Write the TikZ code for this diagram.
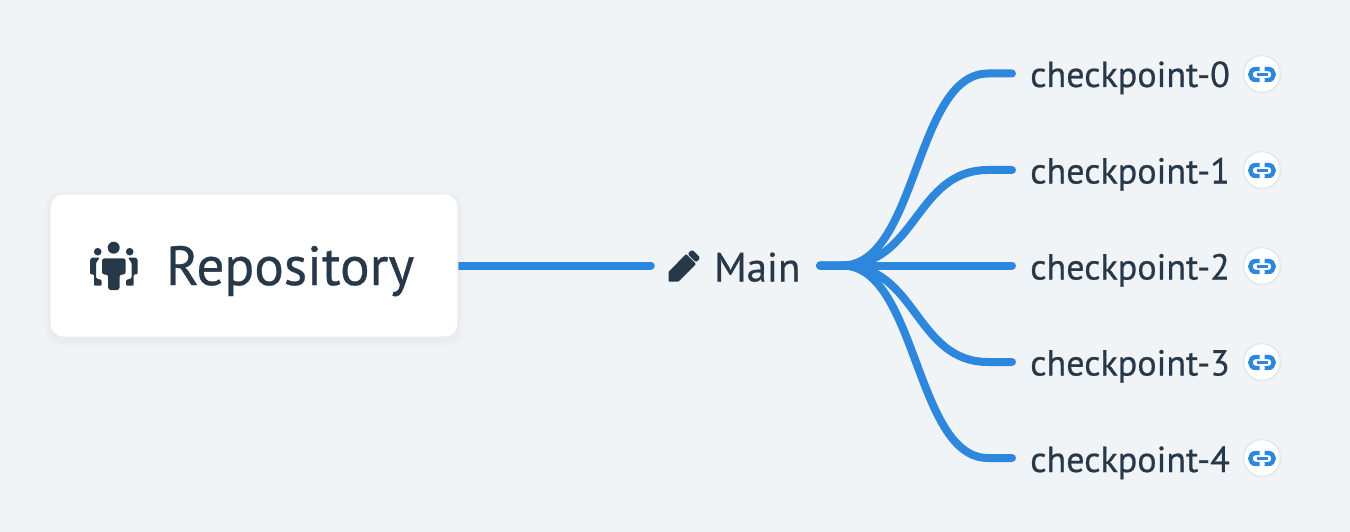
\documentclass[tikz,border=0pt]{standalone}
\usepackage{fontspec}
\setmainfont[FakeBold=0.55]{PT Sans}
\usetikzlibrary{backgrounds}
\definecolor{bg}{HTML}{F0F4F7}
\definecolor{ink}{HTML}{273849}
\definecolor{wire}{HTML}{2D87DC}
\definecolor{ring}{HTML}{E3E8EE}
\tikzset{
  x=1pt,y=-1pt,
  wirepath/.style={draw=wire,line width=8pt,line cap=round},
  hub/.style={inner sep=0pt,minimum width=169pt,minimum height=40pt},
  leaf/.style={inner sep=0pt,anchor=west,minimum width=214pt,minimum height=40pt},
  lbl/.style={inner sep=0pt,anchor=base west,text=ink,font=\fontsize{41}{41}\selectfont},
  ckpt/.style={lbl,font=\fontsize{36.1}{36.1}\selectfont},
  repobox/.style={fill=white,draw=ring,line width=.6pt,rounded corners=13pt,minimum width=408pt,minimum height=143pt,inner sep=0pt},
  badge/.style={circle,fill=white,draw=ring,line width=1.5pt,minimum size=37pt,inner sep=0pt},
  linkarc/.style={draw=wire,line width=4.4pt,line cap=butt,fill=none},
  linkicon/.pic={
    \draw[linkarc] (-2.5,-5.5) -- (-6,-5.5) .. controls (-9.5,-5.5) and (-11.7,-3) .. (-11.7,0) .. controls (-11.7,3) and (-9.5,5.5) .. (-6,5.5) -- (-2.5,5.5);
    \draw[linkarc] (2.5,-5.5) -- (6,-5.5) .. controls (9.5,-5.5) and (11.7,-3) .. (11.7,0) .. controls (11.7,3) and (9.5,5.5) .. (6,5.5) -- (2.5,5.5);
    \draw[draw=wire,line width=3pt] (-5.5,0) -- (5.5,0);
  }
}
\begin{document}
\begin{tikzpicture}
\useasboundingbox (0,0) rectangle (1350,532);
\node[repobox] (repo) at (254,265.5) {};
\node[hub] (main) at (735.5,265.5) {};
\node[leaf] (c0) at (1012,73.5) {};
\node[leaf] (c1) at (1012,170) {};
\node[leaf] (c2) at (1012,265.5) {};
\node[leaf] (c3) at (1012,362) {};
\node[leaf] (c4) at (1012,458) {};
\begin{pgfonlayer}{background}
\fill[bg] (0,0) rectangle (1350,532);
\foreach \g/\o in {6/.012,4/.015,2/.02}
  \fill[black!50,opacity=\o,rounded corners=14pt] (50-\g,194-\g+3) rectangle (458+\g,337+\g+3);
\draw[wirepath] (repo.east) -- (main.west);
\foreach \n in {c0,c1,c2,c3,c4}
  \draw[wirepath] (main.east) -- ++(22,0) .. controls +(75,0) and ([xshift=-97pt]\n.west) .. ([xshift=-24pt]\n.west) -- (\n.west);
\end{pgfonlayer}
\node[lbl,font=\fontsize{55.2}{55.2}\selectfont] (repotext) at (166,285) {Repository};
\node[lbl] (maintext) at (714,281.5) {Main};
\node[ckpt] (t0) at (1030,87) {checkpoint-0};
\node[ckpt] (t1) at (1030,183.5) {checkpoint-1};
\node[ckpt] (t2) at (1030,279.5) {checkpoint-2};
\node[ckpt] (t3) at (1030,375.5) {checkpoint-3};
\node[ckpt] (t4) at (1030,472) {checkpoint-4};
\foreach \y [count=\i] in {74,170,266,362,458}{
  \node[badge] (b\i) at (1262,\y) {};
  \pic at (1262,\y+.5) {linkicon};
}
% pencil
\fill[ink,rounded corners=.8pt] (668.5,281.7) -- (668.5,272) -- (686,254) -- (696,264) -- (678.3,281.7) -- cycle;
\fill[ink,rounded corners=1.2pt] (689,252) -- (692.5,250) -- (700,257.5) -- (698,261) -- (695.5,262) -- (688,254.5) -- cycle;
% people
\fill[ink] (113.7,247.7) circle (6);
\fill[ink] (97.7,251.7) circle (3.8);
\fill[ink] (129.7,251.7) circle (3.8);
\fill[ink,rounded corners=2.5pt] (102,274.5) -- (102,258.3) -- (125.7,258.3) -- (125.7,274.5) -- (119.5,274.5) -- (119.5,290) -- (108.2,290) -- (108.2,274.5) -- cycle;
\fill[ink,rounded corners=1.1pt] (90,274.3) -- (90,259.5) -- (92,257.5) -- (99.8,257.5) -- (96,263) -- (96,278.3) -- (101.7,280) -- (101.7,285.7) -- (94,285.7) -- (94,274.3) -- cycle;
\fill[ink,rounded corners=1.1pt] (137.7,274.3) -- (137.7,259.5) -- (135.7,257.5) -- (127.9,257.5) -- (131.7,263) -- (131.7,278.3) -- (126,280) -- (126,285.7) -- (133.7,285.7) -- (133.7,274.3) -- cycle;
\end{tikzpicture}
\end{document}
